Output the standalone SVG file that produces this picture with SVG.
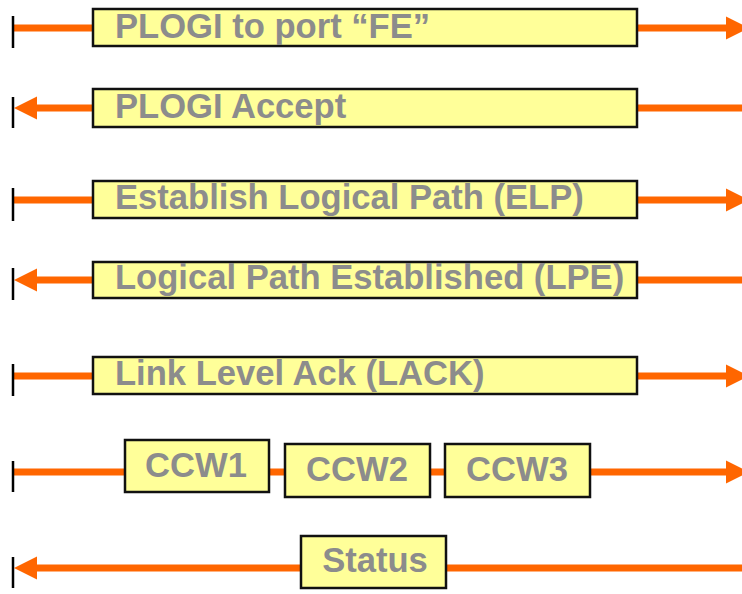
<svg xmlns="http://www.w3.org/2000/svg" width="742" height="594" viewBox="0 0 742 594">
<style>
.ln{fill:none;stroke:#FF6600;stroke-width:7}
.tick{stroke:#000;stroke-width:2.5}
.box{fill:#FFFF99;stroke:#111;stroke-width:2.5}
.lbl{font-family:"Liberation Sans",Arial,sans-serif;font-weight:bold;font-size:34.6px;fill:#8C8C8C}
.c{text-anchor:middle}
</style>
<defs>
<marker id="ah" markerUnits="userSpaceOnUse" markerWidth="24" markerHeight="24" refX="1" refY="11.5" orient="auto-start-reverse" overflow="visible">
<path d="M0,0 L23,11.5 L0,23 Z" fill="#FF6600"/>
</marker>
</defs>
<g id="connectors">
<path class="ln" d="M13,28 H727" marker-end="url(#ah)"/>
<path class="ln" d="M36,108 H742" marker-start="url(#ah)"/>
<path class="ln" d="M13,200 H727" marker-end="url(#ah)"/>
<path class="ln" d="M36,280 H742" marker-start="url(#ah)"/>
<path class="ln" d="M13,376 H727" marker-end="url(#ah)"/>
<path class="ln" d="M13,472 H727" marker-end="url(#ah)"/>
<path class="ln" d="M36,568 H742" marker-start="url(#ah)"/>
<line class="tick" x1="13" y1="16" x2="13" y2="48"/>
<line class="tick" x1="13" y1="97" x2="13" y2="128"/>
<line class="tick" x1="13" y1="188" x2="13" y2="221"/>
<line class="tick" x1="13" y1="268" x2="13" y2="300"/>
<line class="tick" x1="13" y1="364" x2="13" y2="396"/>
<line class="tick" x1="13" y1="461" x2="13" y2="492"/>
<line class="tick" x1="13" y1="557" x2="13" y2="588"/>
</g>
<g id="plogi">
<rect class="box" x="93" y="9" width="544" height="37"/>
<text class="lbl" x="115" y="38">PLOGI to port “FE”</text>
</g>
<g id="plogi-accept">
<rect class="box" x="93" y="89" width="544" height="38"/>
<text class="lbl" x="115" y="118">PLOGI Accept</text>
</g>
<g id="elp">
<rect class="box" x="93" y="181" width="544" height="37"/>
<text class="lbl" x="115" y="209">Establish Logical Path (ELP)</text>
</g>
<g id="lpe">
<rect class="box" x="93" y="262" width="544" height="36"/>
<text class="lbl" x="115" y="289">Logical Path Established (LPE)</text>
</g>
<g id="lack">
<rect class="box" x="93" y="357" width="544" height="37"/>
<text class="lbl" x="115" y="385">Link Level Ack (LACK)</text>
</g>
<g id="ccw1">
<rect class="box" x="125" y="440" width="144" height="52"/>
<text class="lbl c" x="196" y="477">CCW1</text>
</g>
<g id="ccw2">
<rect class="box" x="285" y="444" width="145" height="53"/>
<text class="lbl c" x="357" y="481">CCW2</text>
</g>
<g id="ccw3">
<rect class="box" x="445" y="444" width="145" height="53"/>
<text class="lbl c" x="517" y="481">CCW3</text>
</g>
<g id="status">
<rect class="box" x="301" y="536" width="145" height="52"/>
<text class="lbl c" x="375" y="572">Status</text>
</g>
</svg>
